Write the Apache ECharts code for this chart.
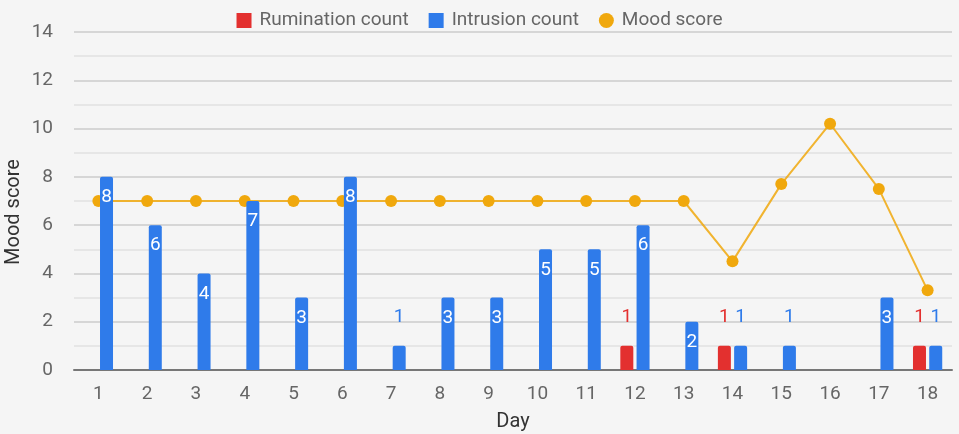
<!DOCTYPE html>
<html><head><meta charset="utf-8">
<script src="https://cdn.jsdelivr.net/npm/echarts@6/dist/echarts.min.js"></script>
<style>html,body{margin:0;padding:0;background:#f5f5f5}#c{width:959px;height:434px}</style>
</head><body><div id="c"></div>
<script>
const days = ['1','2','3','4','5','6','7','8','9','10','11','12','13','14','15','16','17','18'];
const rumination = [0,0,0,0,0,0,0,0,0,0,0,1,0,1,0,0,0,1];
const intrusion = [8,6,4,7,3,8,1,3,3,5,5,6,2,1,1,0,3,1];
const mood = [7,7,7,7,7,7,7,7,7,7,7,7,7,4.5,7.7,10.2,7.5,3.3];
const yTicks = [0,2,4,6,8,10,12,14];

const RED = '#e3302f', BLUE = '#2f7bea', ORANGE = '#f0a80d';
const FONT = 'Roboto';

function barData(vals, color) {
  return vals.map(v => {
    if (!v) return null;
    if (v <= 1) return {value: v, label: {show: true, position: 'top', distance: 19, color: color}};
    return {value: v, label: {show: true, position: 'insideTop', distance: 11, color: '#ffffff'}};
  });
}

const chart = echarts.init(document.getElementById('c'), null, {renderer: 'canvas'});
chart.setOption({
  backgroundColor: '#f5f5f5',
  animation: false,
  textStyle: {fontFamily: FONT},
  legend: {
    data: [{name: 'Rumination count', icon: 'rect'}, {name: 'Intrusion count', icon: 'rect'}, {name: 'Mood score', icon: 'circle'}],
    top: 6, left: 'center', itemWidth: 15, itemHeight: 15, itemGap: 20,
    textStyle: {fontSize: 19, color: '#666', fontFamily: FONT, padding: [0, 0, 0, 3]}
  },
  grid: {left: 74, top: 32, width: 878, height: 338, containLabel: false, outerBoundsMode: 'none'},
  xAxis: {
    type: 'category', data: days,
    name: 'Day', nameLocation: 'middle', nameGap: 42,
    nameTextStyle: {fontSize: 20, color: '#333', fontFamily: FONT},
    axisLine: {lineStyle: {color: '#777', width: 2}},
    axisTick: {show: false},
    axisLabel: {fontSize: 19, color: '#666', margin: 15, fontFamily: FONT}
  },
  yAxis: {
    type: 'value', min: yTicks[0], max: yTicks[yTicks.length - 1], interval: 2,
    name: 'Mood score', nameLocation: 'middle', nameGap: 50, nameMoveOverlap: false,
    nameTextStyle: {fontSize: 20, color: '#333', fontFamily: FONT, padding: [0, 22, 0, 0]},
    axisLine: {show: false}, axisTick: {show: false},
    axisLabel: {fontSize: 19, color: '#666', margin: 21, fontFamily: FONT},
    splitLine: {lineStyle: {color: '#d6d6d6', width: 2}},
    minorTick: {show: false, splitNumber: 2},
    minorSplitLine: {show: true, lineStyle: {color: '#e6e6e6', width: 2}}
  },
  series: [
    {
      name: 'Mood score', type: 'line', data: mood,
      symbol: 'circle', symbolSize: 12, z: 1,
      itemStyle: {color: ORANGE},
      lineStyle: {color: ORANGE, width: 2, opacity: 0.85}
    },
    {
      name: 'Rumination count', type: 'bar', data: barData(rumination, RED),
      barWidth: 13, barGap: '25%', z: 3,
      itemStyle: {color: RED, borderRadius: [2, 2, 0, 0]},
      label: {fontSize: 19, fontFamily: FONT}
    },
    {
      name: 'Intrusion count', type: 'bar', data: barData(intrusion, BLUE),
      barWidth: 13, barGap: '25%', z: 3,
      itemStyle: {color: BLUE, borderRadius: [2, 2, 0, 0]},
      label: {fontSize: 19, fontFamily: FONT}
    }
  ]
});
</script></body></html>
